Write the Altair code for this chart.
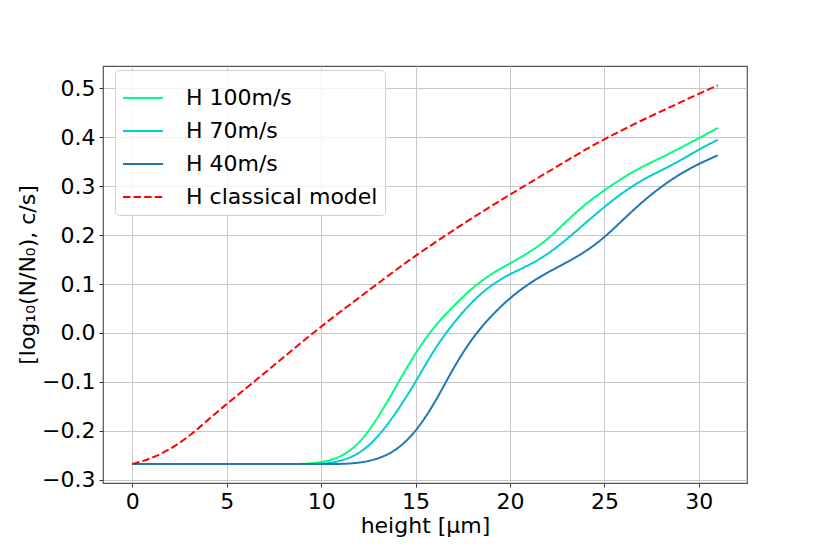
import altair as alt
import pandas as pd

heights = list(range(0, 32))

h100 = [-0.268] * 10 + [-0.265, -0.255, -0.228, -0.175, -0.107, -0.040, 0.014, 0.055,
        0.092, 0.121, 0.142, 0.164, 0.191, 0.229, 0.264, 0.292, 0.318, 0.340, 0.358,
        0.378, 0.398, 0.419]
h70 = [-0.268] * 11 + [-0.263, -0.248, -0.214, -0.162, -0.101, -0.032, 0.020, 0.065,
       0.098, 0.121, 0.138, 0.161, 0.191, 0.225, 0.258, 0.288, 0.313, 0.332, 0.352,
       0.375, 0.395]
h40 = [-0.268] * 12 + [-0.266, -0.258, -0.240, -0.203, -0.145, -0.071, -0.010, 0.035,
       0.072, 0.101, 0.124, 0.144, 0.166, 0.195, 0.232, 0.268, 0.299, 0.325, 0.346, 0.363]
classical = [-0.268, -0.257, -0.238, -0.212, -0.178, -0.145, -0.114, -0.082, -0.050,
             -0.018, 0.013, 0.043, 0.072, 0.101, 0.130, 0.158, 0.184, 0.210, 0.235,
             0.259, 0.283, 0.306, 0.329, 0.352, 0.375, 0.396, 0.416, 0.435, 0.453,
             0.471, 0.489, 0.506]

series_names = ["H 100m/s", "H 70m/s", "H 40m/s", "H classical model"]
series_colors = ["#00ff7f", "#00ced1", "#1f77b4", "#ff0000"]
series_dashes = [[1, 0], [1, 0], [1, 0], [7.4, 3.2]]

rows = []
for name, vals in zip(series_names, [h100, h70, h40, classical]):
    for h, v in zip(heights, vals):
        rows.append({"height": h, "value": v, "series": name})
df = pd.DataFrame(rows)

font = "DejaVu Sans"

chart = alt.Chart(df).mark_line(strokeWidth=2, interpolate="basis").encode(
    x=alt.X("height:Q",
            scale=alt.Scale(domain=[-1.55, 32.55], nice=False, zero=False),
            axis=alt.Axis(title="height [µm]", values=[0, 5, 10, 15, 20, 25, 30],
                          format="d")),
    y=alt.Y("value:Q",
            scale=alt.Scale(domain=[-0.3067, 0.5457], nice=False, zero=False),
            axis=alt.Axis(title="[log₁₀(N/N₀), c/s]",
                          values=[-0.3, -0.2, -0.1, 0.0, 0.1, 0.2, 0.3, 0.4, 0.5],
                          format=".1f")),
    color=alt.Color("series:N",
                    scale=alt.Scale(domain=series_names, range=series_colors),
                    legend=alt.Legend(title=None)),
    strokeDash=alt.StrokeDash("series:N",
                              scale=alt.Scale(domain=series_names, range=series_dashes),
                              legend=alt.Legend(title=None)),
).properties(
    width=644, height=417,
    autosize=alt.AutoSizeParams(type="none"),
    padding={"left": 95, "top": 58, "right": 75, "bottom": 63},
).configure_view(
    stroke="#555555", strokeWidth=1.2
).configure_axis(
    labelFont=font, titleFont=font, labelFontSize=22, titleFontSize=22,
    titleFontWeight="normal", labelColor="#000000", titleColor="#000000",
    grid=True, gridColor="#c8c8c8", gridWidth=1,
    domain=False, ticks=True, tickSize=4, tickColor="#333333", tickWidth=1,
    labelPadding=4,
).configure_axisX(
    titlePadding=3,
).configure_axisY(
    titlePadding=2,
).configure_legend(
    orient="none", legendX=12, legendY=4,
    labelFont=font, labelFontSize=22, labelColor="#000000", labelLimit=400,
    symbolType="stroke", symbolSize=1600, symbolStrokeWidth=2,
    rowPadding=1, padding=7, labelOffset=22,
    fillColor="rgba(255,255,255,0.8)", strokeColor="#d0d0d0", cornerRadius=4,
)

chart.save("out.html", embed_options={"renderer": "svg", "actions": False})
